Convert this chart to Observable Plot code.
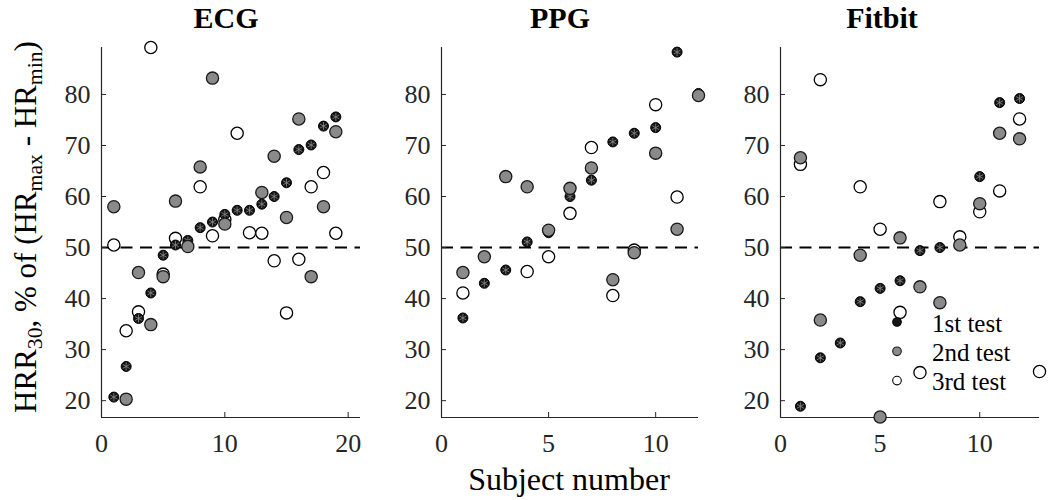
<!DOCTYPE html>
<html>
<head>
<meta charset="utf-8">
<script src="https://cdn.jsdelivr.net/npm/d3@7"></script>
<script src="https://cdn.jsdelivr.net/npm/@observablehq/plot@0.6"></script>
<style>
  body { margin: 0; background: #fff; }
  #wrap { position: relative; width: 1048px; height: 500px; font-family: "Liberation Serif", "Times New Roman", serif; color: #000; overflow: hidden; }
  .panel { position: absolute; top: 0; }
  #ylab { position: absolute; left: 25px; top: 227px; transform: translate(-50%, -50%) rotate(-90deg); white-space: nowrap; font-size: 31px; line-height: 1; }
  #ylab sub { font-size: 0.7em; vertical-align: -0.3em; line-height: 0; }
  #xlab { position: absolute; left: 569px; top: 463px; transform: translateX(-50%); white-space: nowrap; font-size: 32px; line-height: 1; }
  #legend { position: absolute; left: 0; top: 0; }
</style>
</head>
<body>
<div id="wrap">
  <div id="ylab">HRR<sub>30</sub>, % of (HR<sub>max</sub> - HR<sub>min</sub>)</div>
  <div id="xlab">Subject number</div>
</div>
<script>
// ---------- data ----------
const titles = ["ECG", "PPG", "Fitbit"];
const seriesNames = ["1st test", "2nd test", "3rd test"];
const yTicks = [20, 30, 40, 50, 60, 70, 80];
const yDomain = [16.7, 89.2];
const refLine = [50];

const ecgSubjects = [1, 2, 3, 4, 5, 6, 7, 8, 9, 10, 11, 12, 13, 14, 15, 16, 17, 18, 19];
const ecgTest1 = [20.7, 26.7, 36.1, 41.1, 48.5, 50.5, 51.4, 53.9, 55.0, 56.5, 57.3, 57.3, 58.5, 60.0, 62.7, 69.2, 70.1, 73.8, 75.6];
const ecgTest2 = [58.0, 20.3, 45.1, 34.9, 44.3, 59.1, 50.2, 65.8, 83.2, 54.6, null, null, 60.8, 67.9, 55.9, 75.2, 44.3, 58.0, 72.7];
const ecgTest3 = [50.5, 33.7, 37.4, 89.2, 44.8, 51.8, null, 61.9, 52.3, 55.5, 72.4, 52.9, 52.8, 47.4, 37.2, 47.7, 61.9, 64.7, 52.8];
const ecgXTicks = [0, 10, 20];
const ecgXDomain = [0, 21];

const ppgSubjects = [1, 2, 3, 4, 5, 6, 7, 8, 9, 10, 11, 12];
const ppgTest1 = [36.2, 43.0, 45.6, 51.1, 52.9, 60.0, 63.2, 70.7, 72.4, 73.5, 88.3, 80.2];
const ppgTest2 = [45.1, 48.2, 63.9, 61.9, 53.4, 61.6, 65.6, 43.7, 49.0, 68.5, 53.6, 79.8];
const ppgTest3 = [41.1, null, null, 45.3, 48.2, 56.7, 69.6, 40.6, 49.5, 78.0, 59.9, null];
const ppgXTicks = [0, 5, 10];
const ppgXDomain = [0, 12];

const fitSubjects = [1, 2, 3, 4, 5, 6, 7, 8, 9, 10, 11, 12, 13];
const fitTest1 = [18.9, 28.4, 31.3, 39.4, 42.0, 43.5, 49.4, 50.0, null, 63.9, 78.4, 79.2, null];
const fitTest2 = [67.6, 35.8, null, 48.5, 16.8, 51.9, 42.3, 39.2, 50.5, 58.6, 72.4, 71.3, null];
const fitTest3 = [66.3, 82.9, null, 61.9, 53.6, 37.3, 25.5, 59.0, 52.1, 57.0, 61.1, 75.2, 25.7];
const fitXTicks = [0, 5, 10];
const fitXDomain = [0, 13];

// ---------- styles ----------
const FONT = '"Liberation Serif", "Times New Roman", serif';
const AXIS = "#262626";
const style1 = {fill: "#161616", stroke: "#000", r: 5.0, strokeWidth: 1};
const style2 = {fill: "#8a8a8a", stroke: "#1a1a1a", r: 6.1, strokeWidth: 1.3};
const style3 = {fill: "#fff", stroke: "#000", r: 6.1, strokeWidth: 1.3};

function rows(subjects, values) {
  return subjects.map((s, i) => ({s, v: values[i]})).filter(d => d.v != null);
}

function panel(cfg) {
  const {title, titleDx, subjects, t1, t2, t3, xDomain, xTicks, left, width, mL, mR} = cfg;
  const p = Plot.plot({
    width, height: 500,
    marginLeft: mL, marginRight: mR, marginTop: 47, marginBottom: 83,
    style: {fontFamily: FONT, fontSize: "26px", background: "transparent", color: "#000", overflow: "visible"},
    x: {domain: xDomain},
    y: {domain: yDomain},
    marks: [
      Plot.ruleY(refLine, {stroke: "#000", strokeWidth: 2, strokeDasharray: "12,7.5"}),
      Plot.ruleX([xDomain[0]], {stroke: AXIS, strokeWidth: 1.2}),
      Plot.ruleY([yDomain[0]], {stroke: AXIS, strokeWidth: 1.2}),
      Plot.axisX({ticks: xTicks, tickSize: -5, tickFormat: () => "", stroke: AXIS, label: null}),
      Plot.axisX({ticks: xTicks, tickSize: 0, tickPadding: 16, fill: "#262626", label: null, fontSize: 26}),
      Plot.axisY({ticks: yTicks, tickSize: -5, tickFormat: () => "", stroke: AXIS, label: null}),
      Plot.axisY({ticks: yTicks, tickSize: 0, tickPadding: 11, fill: "#262626", label: null, fontSize: 26}),
      Plot.dot(rows(subjects, t3), {x: "s", y: "v", ...style3}),
      Plot.dot(rows(subjects, t1), {x: "s", y: "v", ...style1}),
      Plot.dot(rows(subjects, t1), {x: "s", y: "v", symbol: "asterisk", r: 3.7, stroke: "#8a8a8a", strokeWidth: 0.8}),
      Plot.dot(rows(subjects, t2), {x: "s", y: "v", ...style2}),
      Plot.text([title], {frameAnchor: "top", lineAnchor: "middle", dy: -29, dx: titleDx, fontSize: 30, fontWeight: "bold", fill: "#000"})
    ]
  });
  p.classList.add("panel");
  p.style.left = left + "px";
  return p;
}

const wrap = document.getElementById("wrap");
wrap.appendChild(panel({title: titles[0], titleDx: -5, subjects: ecgSubjects, t1: ecgTest1, t2: ecgTest2, t3: ecgTest3,
  xDomain: ecgXDomain, xTicks: ecgXTicks, left: 0, width: 380, mL: 101, mR: 20}));
wrap.appendChild(panel({title: titles[1], titleDx: -10, subjects: ppgSubjects, t1: ppgTest1, t2: ppgTest2, t3: ppgTest3,
  xDomain: ppgXDomain, xTicks: ppgXTicks, left: 380, width: 340, mL: 61, mR: 22}));
wrap.appendChild(panel({title: titles[2], titleDx: -28, subjects: fitSubjects, t1: fitTest1, t2: fitTest2, t3: fitTest3,
  xDomain: fitXDomain, xTicks: fitXTicks, left: 720, width: 328, mL: 60, mR: 9}));

// ---------- legend (inside Fitbit panel) ----------
const legendStyles = [style1, style2, style3];
const ns = "http://www.w3.org/2000/svg";
const lg = document.createElementNS(ns, "svg");
lg.setAttribute("id", "legend");
lg.setAttribute("width", 1048);
lg.setAttribute("height", 500);
seriesNames.forEach((name, i) => {
  const st = legendStyles[i];
  const cy = 322 + i * 29.3;
  const c = document.createElementNS(ns, "circle");
  c.setAttribute("cx", 897);
  c.setAttribute("cy", cy);
  c.setAttribute("r", 4.3);
  c.setAttribute("fill", st.fill);
  c.setAttribute("stroke", st.stroke);
  c.setAttribute("stroke-width", 1.1);
  lg.appendChild(c);
  const t = document.createElementNS(ns, "text");
  t.setAttribute("x", 932);
  t.setAttribute("y", cy + 9.5);
  t.setAttribute("font-family", FONT);
  t.setAttribute("font-size", 25);
  t.setAttribute("fill", "#000");
  t.textContent = name;
  lg.appendChild(t);
});
wrap.appendChild(lg);
</script>
</body>
</html>
